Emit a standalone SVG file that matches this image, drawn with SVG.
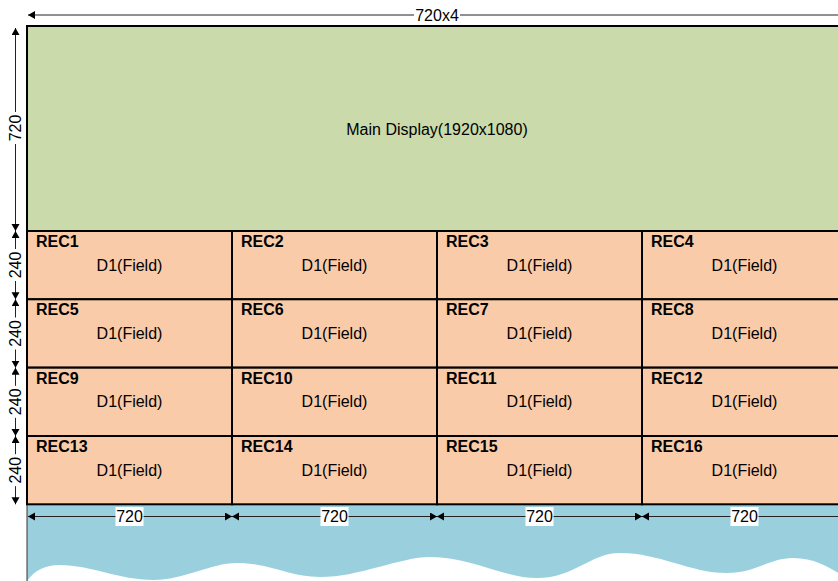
<svg xmlns="http://www.w3.org/2000/svg" width="838" height="581" viewBox="0 0 838 581">
<defs>
<style>
.t{font-family:"Liberation Sans",Arial,sans-serif;font-size:16px;fill:#000}
.c{text-anchor:middle;dominant-baseline:central}
.b{font-weight:bold}
.cell{fill:#f9cba8;stroke:#000;stroke-width:2}
.dim{stroke:#222;stroke-width:1;fill:none;marker-start:url(#ar);marker-end:url(#ar)}
.lbg{fill:#fff}
</style>
<marker id="ar" markerUnits="userSpaceOnUse" markerWidth="8" markerHeight="9" refX="7" refY="4" orient="auto-start-reverse" viewBox="0 0 8 9">
<path d="M0,0 L7,4 L0,8 Z" fill="#000"/>
</marker>
</defs>
<rect width="838" height="581" fill="#fff"/>
<g id="water">
<rect x="27" y="504" width="820" height="77" fill="#9ad0de"/>
<path d="M27,581 C35,570 45,565 60,565 C90,565 120,580 153,580 C185,580 210,563 237,563 C270,563 290,577 320,577 C360,577 400,557 430,557 C470,557 505,578 537,578 C575,578 590,553 620,553 C660,553 690,573 727,573 C755,573 770,558 793,558 C815,558 830,568 840,574 L840,581 Z" fill="#fff"/>
<line x1="27" y1="504" x2="27" y2="581" stroke="#333" stroke-width="1"/>
</g>
<g id="main">
<rect x="27" y="26" width="820" height="205" fill="#cbdaab" stroke="#000" stroke-width="2"/>
<text class="t c" x="437" y="129">Main Display(1920x1080)</text>
</g>
<g id="rec1"><rect class="cell" x="27" y="231" width="205" height="68.3"/><text class="t b" x="36" y="247">REC1</text><text class="t c" x="129.5" y="265">D1(Field)</text></g>
<g id="rec2"><rect class="cell" x="232" y="231" width="205" height="68.3"/><text class="t b" x="241" y="247">REC2</text><text class="t c" x="334.5" y="265">D1(Field)</text></g>
<g id="rec3"><rect class="cell" x="437" y="231" width="205" height="68.3"/><text class="t b" x="446" y="247">REC3</text><text class="t c" x="539.5" y="265">D1(Field)</text></g>
<g id="rec4"><rect class="cell" x="642" y="231" width="205" height="68.3"/><text class="t b" x="651" y="247">REC4</text><text class="t c" x="744.5" y="265">D1(Field)</text></g>
<g id="rec5"><rect class="cell" x="27" y="299.3" width="205" height="68.3"/><text class="t b" x="36" y="315.3">REC5</text><text class="t c" x="129.5" y="333.5">D1(Field)</text></g>
<g id="rec6"><rect class="cell" x="232" y="299.3" width="205" height="68.3"/><text class="t b" x="241" y="315.3">REC6</text><text class="t c" x="334.5" y="333.5">D1(Field)</text></g>
<g id="rec7"><rect class="cell" x="437" y="299.3" width="205" height="68.3"/><text class="t b" x="446" y="315.3">REC7</text><text class="t c" x="539.5" y="333.5">D1(Field)</text></g>
<g id="rec8"><rect class="cell" x="642" y="299.3" width="205" height="68.3"/><text class="t b" x="651" y="315.3">REC8</text><text class="t c" x="744.5" y="333.5">D1(Field)</text></g>
<g id="rec9"><rect class="cell" x="27" y="367.7" width="205" height="68.3"/><text class="t b" x="36" y="383.7">REC9</text><text class="t c" x="129.5" y="401.8">D1(Field)</text></g>
<g id="rec10"><rect class="cell" x="232" y="367.7" width="205" height="68.3"/><text class="t b" x="241" y="383.7">REC10</text><text class="t c" x="334.5" y="401.8">D1(Field)</text></g>
<g id="rec11"><rect class="cell" x="437" y="367.7" width="205" height="68.3"/><text class="t b" x="446" y="383.7">REC11</text><text class="t c" x="539.5" y="401.8">D1(Field)</text></g>
<g id="rec12"><rect class="cell" x="642" y="367.7" width="205" height="68.3"/><text class="t b" x="651" y="383.7">REC12</text><text class="t c" x="744.5" y="401.8">D1(Field)</text></g>
<g id="rec13"><rect class="cell" x="27" y="436" width="205" height="68.3"/><text class="t b" x="36" y="452">REC13</text><text class="t c" x="129.5" y="470.2">D1(Field)</text></g>
<g id="rec14"><rect class="cell" x="232" y="436" width="205" height="68.3"/><text class="t b" x="241" y="452">REC14</text><text class="t c" x="334.5" y="470.2">D1(Field)</text></g>
<g id="rec15"><rect class="cell" x="437" y="436" width="205" height="68.3"/><text class="t b" x="446" y="452">REC15</text><text class="t c" x="539.5" y="470.2">D1(Field)</text></g>
<g id="rec16"><rect class="cell" x="642" y="436" width="205" height="68.3"/><text class="t b" x="651" y="452">REC16</text><text class="t c" x="744.5" y="470.2">D1(Field)</text></g>
<g id="connectors">
<line class="dim" x1="28" y1="15" x2="846" y2="15"/>
<rect class="lbg" x="414" y="7" width="46" height="17"/>
<text class="t c" x="437" y="15">720x4</text>
<line class="dim" x1="15.5" y1="28" x2="15.5" y2="231"/>
<rect class="lbg" x="7" y="112" width="17" height="32"/>
<text class="t c" transform="translate(15.5,128) rotate(-90)" x="0" y="0">720</text>
<line class="dim" x1="15.5" y1="231" x2="15.5" y2="299.3"/>
<rect class="lbg" x="7" y="249" width="17" height="32"/>
<text class="t c" transform="translate(15.5,265) rotate(-90)" x="0" y="0">240</text>
<line class="dim" x1="15.5" y1="299.3" x2="15.5" y2="367.7"/>
<rect class="lbg" x="7" y="317.5" width="17" height="32"/>
<text class="t c" transform="translate(15.5,333.5) rotate(-90)" x="0" y="0">240</text>
<line class="dim" x1="15.5" y1="367.7" x2="15.5" y2="436"/>
<rect class="lbg" x="7" y="385.8" width="17" height="32"/>
<text class="t c" transform="translate(15.5,401.8) rotate(-90)" x="0" y="0">240</text>
<line class="dim" x1="15.5" y1="436" x2="15.5" y2="504.3"/>
<rect class="lbg" x="7" y="454.2" width="17" height="32"/>
<text class="t c" transform="translate(15.5,470.2) rotate(-90)" x="0" y="0">240</text>
<line class="dim" x1="28" y1="516.5" x2="232" y2="516.5"/>
<rect class="lbg" x="115.5" y="507" width="28" height="19"/>
<text class="t c" x="129.5" y="516.5">720</text>
<line class="dim" x1="232" y1="516.5" x2="437" y2="516.5"/>
<rect class="lbg" x="320.5" y="507" width="28" height="19"/>
<text class="t c" x="334.5" y="516.5">720</text>
<line class="dim" x1="437" y1="516.5" x2="642" y2="516.5"/>
<rect class="lbg" x="525.5" y="507" width="28" height="19"/>
<text class="t c" x="539.5" y="516.5">720</text>
<line class="dim" x1="642" y1="516.5" x2="847" y2="516.5"/>
<rect class="lbg" x="730.5" y="507" width="28" height="19"/>
<text class="t c" x="744.5" y="516.5">720</text>
</g>
</svg>
